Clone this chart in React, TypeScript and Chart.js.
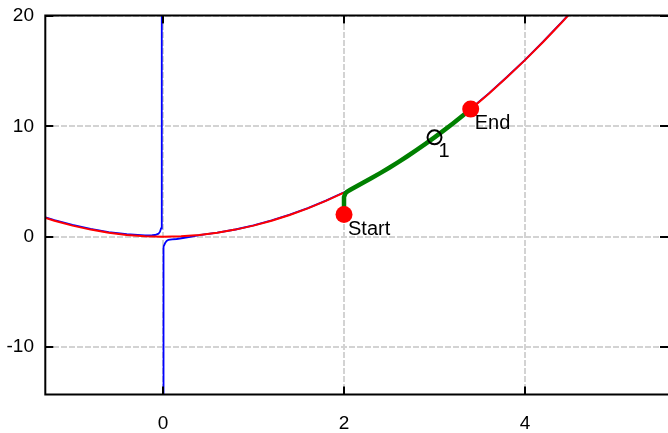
import { useEffect, useRef } from "react";
import { Chart, registerables } from "chart.js";

Chart.register(...registerables);

// Axis ranges
const X_MIN = -1.304;
const X_MAX = 5.58;
const Y_MIN = -14.35;
const Y_MAX = 20;

// Tick values
const xTicks = [0, 2, 4];
const yTicks = [-10, 0, 10, 20];

// Red curve
const redX = [-1.4, -1.2, -1.0, -0.8, -0.6, -0.4, -0.2, 0, 0.2, 0.4, 0.6, 0.8, 1.0, 1.2, 1.4, 1.6, 1.8, 2.0, 2.2, 2.4, 2.6, 2.8, 3.0, 3.2, 3.4, 3.6, 3.8, 4.0, 4.2, 4.4, 4.6];
const redY = [1.96, 1.44, 1.0, 0.64, 0.36, 0.16, 0.04, 0, 0.04, 0.16, 0.36, 0.64, 1.0, 1.44, 1.96, 2.56, 3.24, 4.0, 4.84, 5.76, 6.76, 7.84, 9.0, 10.24, 11.56, 12.96, 14.44, 16.0, 17.64, 19.36, 21.16];

// Blue curve (two branches split by a gap at the pole)
const blueX = [-1.4, -1.2, -1.0, -0.8, -0.6, -0.4, -0.2, -0.12, -0.088, -0.05, -0.033, -0.022, -0.016, -0.013, -0.012, -0.005, 0.003, 0.0035, 0.008, 0.022, 0.04, 0.059, 0.1, 0.151, 0.22, 0.3, 0.4, 0.6, 0.8, 1.0, 1.2, 1.4, 1.6, 1.8, 2.0, 2.2, 2.4, 2.6, 2.8, 3.0, 3.2, 3.4, 3.6, 3.8, 4.0, 4.2, 4.4, 4.6];
const blueY = [2.01, 1.5, 1.06, 0.7, 0.42, 0.22, 0.12, 0.13, 0.15, 0.27, 0.45, 0.75, 1.0, 1.24, 30, null, -30, -1.36, -0.9, -0.6, -0.38, -0.3, -0.24, -0.21, -0.12, -0.02, 0.14, 0.36, 0.65, 1.02, 1.47, 1.99, 2.59, 3.27, 4.03, 4.87, 5.79, 6.79, 7.87, 9.03, 10.27, 11.59, 12.99, 14.47, 16.03, 17.67, 19.39, 21.19];

// Green path from Start to End
const greenX = [2, 2, 2.015, 2.04, 2.08, 2.15, 2.2, 2.3, 2.4, 2.5, 2.6, 2.7, 2.8, 2.9, 3.0, 3.1, 3.2, 3.3, 3.4];
const greenY = [2, 3.6, 3.92, 4.1, 4.3, 4.62, 4.84, 5.29, 5.76, 6.25, 6.76, 7.29, 7.84, 8.41, 9.0, 9.61, 10.24, 10.89, 11.56];

// Marked points
const markerX = [2, 3.4];
const markerY = [2, 11.56];
const markerLabels = ["Start", "End"];

const ringX = [3];
const ringY = [9];
const ringLabels = ["1"];

const FONT = '"Liberation Sans", Arial, sans-serif';

const toPoints = (xs: number[], ys: (number | null)[]) =>
  xs.map((x, i) => ({ x, y: ys[i] }));

// Fixed axis box: no automatic label overhang padding
function fixBox(size: "width" | "height", value: number) {
  return (s: any) => {
    s[size] = value;
    s.paddingTop = 0;
    s.paddingBottom = 0;
    s.paddingLeft = 0;
    s.paddingRight = 0;
  };
}

const framePlugin = {
  id: "frameTicks",
  afterDraw(chart: any) {
    const { ctx, chartArea: a, scales } = chart;
    ctx.save();
    ctx.strokeStyle = "#000";
    ctx.lineWidth = 2;
    ctx.lineCap = "butt";
    const top = a.top - 0.5;
    const bottom = a.bottom - 0.5;
    const left = a.left + 0.3;
    ctx.beginPath();
    ctx.moveTo(left - 1, top);
    ctx.lineTo(a.right, top);
    ctx.moveTo(left, top);
    ctx.lineTo(left, bottom);
    ctx.moveTo(left - 1, bottom);
    ctx.lineTo(a.right, bottom);
    ctx.stroke();
    const len = 8;
    ctx.beginPath();
    for (const v of xTicks) {
      const px = Math.round(scales.x.getPixelForValue(v));
      ctx.moveTo(px, top);
      ctx.lineTo(px, top + len);
      ctx.moveTo(px, bottom);
      ctx.lineTo(px, bottom - len);
    }
    for (const v of yTicks) {
      const py = Math.round(scales.y.getPixelForValue(v));
      ctx.moveTo(left, py);
      ctx.lineTo(left + len, py);
      ctx.moveTo(a.right - len, py);
      ctx.lineTo(a.right, py);
    }
    ctx.stroke();
    ctx.restore();
  },
};

const labelPlugin = {
  id: "pointLabels",
  afterDatasetsDraw(chart: any) {
    const { ctx } = chart;
    ctx.save();
    ctx.fillStyle = "#000";
    ctx.font = `20px ${FONT}`;
    ctx.textAlign = "left";
    ctx.textBaseline = "alphabetic";
    const groups: [number, string[]][] = [
      [0, markerLabels],
      [1, ringLabels],
    ];
    for (const [idx, labels] of groups) {
      const meta = chart.getDatasetMeta(idx);
      meta.data.forEach((el: any, i: number) => {
        ctx.fillText(labels[i], el.x + 4, el.y + 20);
      });
    }
    ctx.restore();
  },
};

export default function App() {
  const ref = useRef<HTMLCanvasElement | null>(null);

  useEffect(() => {
    if (!ref.current) return;
    const chart = new Chart(ref.current, {
      type: "scatter",
      data: {
        datasets: [
          {
            data: toPoints(markerX, markerY),
            showLine: false,
            pointRadius: 8.5,
            pointBorderWidth: 0,
            pointBackgroundColor: "#ff0000",
            pointBorderColor: "#ff0000",
          },
          {
            data: toPoints(ringX, ringY),
            showLine: false,
            pointRadius: 7,
            pointBorderWidth: 2,
            pointBackgroundColor: "rgba(0,0,0,0)",
            pointBorderColor: "#000",
          },
          {
            data: toPoints(greenX, greenY),
            showLine: true,
            borderColor: "#008000",
            borderWidth: 4.5,
            pointRadius: 0,
            borderJoinStyle: "round",
            borderCapStyle: "round",
            clip: 0,
          },
          {
            data: toPoints(redX, redY),
            showLine: true,
            borderColor: "#ff0000",
            borderWidth: 2,
            pointRadius: 0,
            clip: 0,
          },
          {
            data: toPoints(blueX, blueY),
            showLine: true,
            spanGaps: false,
            borderColor: "#0000ff",
            borderWidth: 1.8,
            pointRadius: 0,
            clip: 0,
          },
        ],
      } as any,
      options: {
        responsive: false,
        animation: false,
        devicePixelRatio: 1,
        layout: { autoPadding: false, padding: { top: 16, left: 0, right: 0, bottom: 0 } },
        plugins: {
          legend: { display: false },
          tooltip: { enabled: false },
        },
        scales: {
          x: {
            type: "linear",
            min: X_MIN,
            max: X_MAX,
            afterFit: fixBox("height", 38),
            afterBuildTicks(s: any) {
              s.ticks = xTicks.map((value) => ({ value }));
            },
            ticks: {
              includeBounds: false,
              padding: 17,
              color: "#000",
              maxRotation: 0,
              font: { family: FONT, size: 19 },
            },
            grid: { color: "#d3d3d3", lineWidth: 2, drawTicks: false },
            border: { display: false, dash: [6, 2] },
          },
          y: {
            type: "linear",
            min: Y_MIN,
            max: Y_MAX,
            afterFit: fixBox("width", 45),
            afterBuildTicks(s: any) {
              s.ticks = yTicks.map((value) => ({ value }));
            },
            ticks: {
              includeBounds: false,
              padding: 11,
              color: "#000",
              font: { family: FONT, size: 19 },
            },
            grid: { color: "#d3d3d3", lineWidth: 2, drawTicks: false },
            border: { display: false, dash: [6, 2] },
          },
        },
      } as any,
      plugins: [framePlugin, labelPlugin],
    });
    return () => chart.destroy();
  }, []);

  return (
    <div style={{ position: "fixed", left: 0, top: 0, width: 668, height: 433, background: "#fff" }}>
      <canvas ref={ref} width={668} height={433} style={{ display: "block" }} />
    </div>
  );
}
